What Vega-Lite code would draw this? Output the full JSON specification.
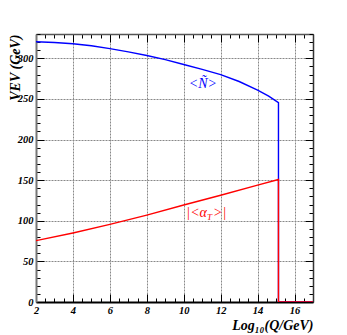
{
  "$schema": "https://vega.github.io/schema/vega-lite/v6.json",
  "width": 277,
  "height": 268,
  "autosize": {"type": "none"},
  "padding": {"left": 36, "top": 34, "right": 34, "bottom": 33},
  "background": "white",
  "config": {"view": {"stroke": null}},
  "datasets": {
    "curves": [
      {"s": "N", "i": 1, "q": 2, "v": 320.5},
      {"s": "N", "i": 2, "q": 3, "v": 319.5},
      {"s": "N", "i": 3, "q": 4, "v": 318},
      {"s": "N", "i": 4, "q": 5, "v": 315.5},
      {"s": "N", "i": 5, "q": 6, "v": 312},
      {"s": "N", "i": 6, "q": 7, "v": 308},
      {"s": "N", "i": 7, "q": 8, "v": 303.5},
      {"s": "N", "i": 8, "q": 9, "v": 298.5},
      {"s": "N", "i": 9, "q": 10, "v": 292.5},
      {"s": "N", "i": 10, "q": 11, "v": 286.5},
      {"s": "N", "i": 11, "q": 12, "v": 280},
      {"s": "N", "i": 12, "q": 13, "v": 271.5},
      {"s": "N", "i": 13, "q": 14, "v": 261},
      {"s": "N", "i": 14, "q": 14.6, "v": 253.5},
      {"s": "N", "i": 15, "q": 15.13, "v": 245.5},
      {"s": "N", "i": 16, "q": 15.13, "v": 0},
      {"s": "N", "i": 17, "q": 17, "v": 0},
      {"s": "A", "i": 1, "q": 2, "v": 75.5},
      {"s": "A", "i": 2, "q": 4, "v": 85},
      {"s": "A", "i": 3, "q": 6, "v": 95.5},
      {"s": "A", "i": 4, "q": 8, "v": 107},
      {"s": "A", "i": 5, "q": 10, "v": 119.5},
      {"s": "A", "i": 6, "q": 12, "v": 131.5},
      {"s": "A", "i": 7, "q": 14, "v": 144},
      {"s": "A", "i": 8, "q": 15.13, "v": 150.8},
      {"s": "A", "i": 9, "q": 15.13, "v": 0},
      {"s": "A", "i": 10, "q": 17, "v": 0}
    ],
    "labels": [
      {"q": 11.04, "v": 269, "t": "<Ñ>"}
    ],
    "alabel": [
      {"q": 11.15, "v": 110}
    ]
  },
  "resolve": {"axis": {"x": "independent", "y": "independent"}},
  "layer": [
    {
      "data": {"name": "curves"},
      "transform": [{"filter": "datum.s === 'N'"}],
      "mark": {"type": "line", "color": "#0000ff", "strokeWidth": 1.4, "clip": true},
      "encoding": {
        "x": {
          "field": "q", "type": "quantitative",
          "scale": {"domain": [2, 17], "nice": false, "zero": false},
          "axis": {
            "orient": "bottom",
            "title": "Log₁₀(Q/GeV)",
            "titleFont": "Liberation Serif", "titleFontSize": 14, "titleFontWeight": "bold", "titleFontStyle": "italic",
            "titleColor": "black",
            "titleAnchor": "end", "titleAlign": "right", "titleX": 277, "titleY": 27, "titleBaseline": "alphabetic",
            "values": [2,2.5,3,3.5,4,4.5,5,5.5,6,6.5,7,7.5,8,8.5,9,9.5,10,10.5,11,11.5,12,12.5,13,13.5,14,14.5,15,15.5,16,16.5,17],
            "labelExpr": "datum.value % 2 === 0 ? format(datum.value, 'd') : ''",
            "labelFont": "Liberation Serif", "labelFontSize": 10.5, "labelFontWeight": "bold", "labelFontStyle": "italic",
            "labelColor": "black", "labelOverlap": false, "labelFlush": false, "labelPadding": 11,
            "tickSize": {"condition": {"test": "datum.value % 2 === 0", "value": -8}, "value": -4},
            "tickColor": "black", "tickWidth": 1,
            "domainColor": "black", "domainWidth": 2,
            "grid": true,
            "gridOpacity": {"condition": {"test": "datum.value % 2 === 0 && datum.value > 2", "value": 1}, "value": 0},
            "gridColor": "#888888", "gridDash": [2, 1], "gridWidth": 1
          }
        },
        "y": {
          "field": "v", "type": "quantitative",
          "scale": {"domain": [0, 330], "nice": false},
          "axis": {
            "orient": "left",
            "title": "VEV (GeV)",
            "titleFont": "Liberation Serif", "titleFontSize": 14, "titleFontWeight": "bold", "titleFontStyle": "italic",
            "titleColor": "black",
            "titleAngle": -90, "titleAlign": "right", "titleBaseline": "alphabetic", "titleX": -17, "titleY": 0,
            "values": [0,10,20,30,40,50,60,70,80,90,100,110,120,130,140,150,160,170,180,190,200,210,220,230,240,250,260,270,280,290,300,310,320,330],
            "labelExpr": "datum.value % 50 === 0 ? format(datum.value, 'd') : ''",
            "labelFont": "Liberation Serif", "labelFontSize": 10.5, "labelFontWeight": "bold", "labelFontStyle": "italic",
            "labelColor": "black", "labelOverlap": false, "labelFlush": false, "labelPadding": 11,
            "tickSize": {"condition": {"test": "datum.value % 50 === 0", "value": -8}, "value": -4},
            "tickColor": "black", "tickWidth": 1,
            "domainColor": "#777777", "domainWidth": 2,
            "grid": true,
            "gridOpacity": {"condition": {"test": "datum.value % 50 === 0 && datum.value > 0", "value": 1}, "value": 0},
            "gridColor": "#888888", "gridDash": [2, 1], "gridWidth": 1
          }
        },
        "order": {"field": "i", "type": "quantitative"}
      }
    },
    {
      "data": {"name": "curves"},
      "transform": [{"filter": "datum.s === 'A'"}],
      "mark": {"type": "line", "color": "#ff0000", "strokeWidth": 1.4, "clip": true},
      "encoding": {
        "x": {
          "field": "q", "type": "quantitative",
          "axis": {
            "orient": "top", "title": null, "labels": false, "grid": false,
            "values": [2,2.5,3,3.5,4,4.5,5,5.5,6,6.5,7,7.5,8,8.5,9,9.5,10,10.5,11,11.5,12,12.5,13,13.5,14,14.5,15,15.5,16,16.5,17],
            "tickSize": {"condition": {"test": "datum.value % 2 === 0", "value": -8}, "value": -4},
            "tickColor": "black", "domainColor": "#555555", "domainWidth": 1.5
          }
        },
        "y": {
          "field": "v", "type": "quantitative",
          "axis": {
            "orient": "right", "title": null, "labels": false, "grid": false,
            "values": [0,10,20,30,40,50,60,70,80,90,100,110,120,130,140,150,160,170,180,190,200,210,220,230,240,250,260,270,280,290,300,310,320,330],
            "tickSize": {"condition": {"test": "datum.value % 50 === 0", "value": -8}, "value": -4},
            "tickColor": "black", "domainColor": "#333333", "domainWidth": 1.5
          }
        },
        "order": {"field": "i", "type": "quantitative"}
      }
    },
    {
      "data": {"name": "labels"},
      "mark": {"type": "text", "color": "#0000ff", "font": "Liberation Serif", "fontSize": 14, "fontStyle": "italic", "align": "center", "baseline": "middle"},
      "encoding": {
        "x": {"field": "q", "type": "quantitative", "axis": null},
        "y": {"field": "v", "type": "quantitative", "axis": null},
        "text": {"field": "t"}
      }
    },
    {
      "data": {"name": "alabel"},
      "mark": {"type": "text", "color": "#ff0000", "font": "Liberation Serif", "fontSize": 14, "fontStyle": "italic", "align": "right", "baseline": "middle", "dx": 2},
      "encoding": {
        "x": {"field": "q", "type": "quantitative", "axis": null},
        "y": {"field": "v", "type": "quantitative", "axis": null},
        "text": {"value": "|<α"}
      }
    },
    {
      "data": {"name": "alabel"},
      "mark": {"type": "text", "color": "#ff0000", "font": "Liberation Serif", "fontSize": 9, "fontStyle": "italic", "align": "left", "baseline": "middle", "dx": 2, "dy": 4},
      "encoding": {
        "x": {"field": "q", "type": "quantitative", "axis": null},
        "y": {"field": "v", "type": "quantitative", "axis": null},
        "text": {"value": "T"}
      }
    },
    {
      "data": {"name": "alabel"},
      "mark": {"type": "text", "color": "#ff0000", "font": "Liberation Serif", "fontSize": 14, "fontStyle": "italic", "align": "left", "baseline": "middle", "dx": 8},
      "encoding": {
        "x": {"field": "q", "type": "quantitative", "axis": null},
        "y": {"field": "v", "type": "quantitative", "axis": null},
        "text": {"value": ">|"}
      }
    }
  ]
}
